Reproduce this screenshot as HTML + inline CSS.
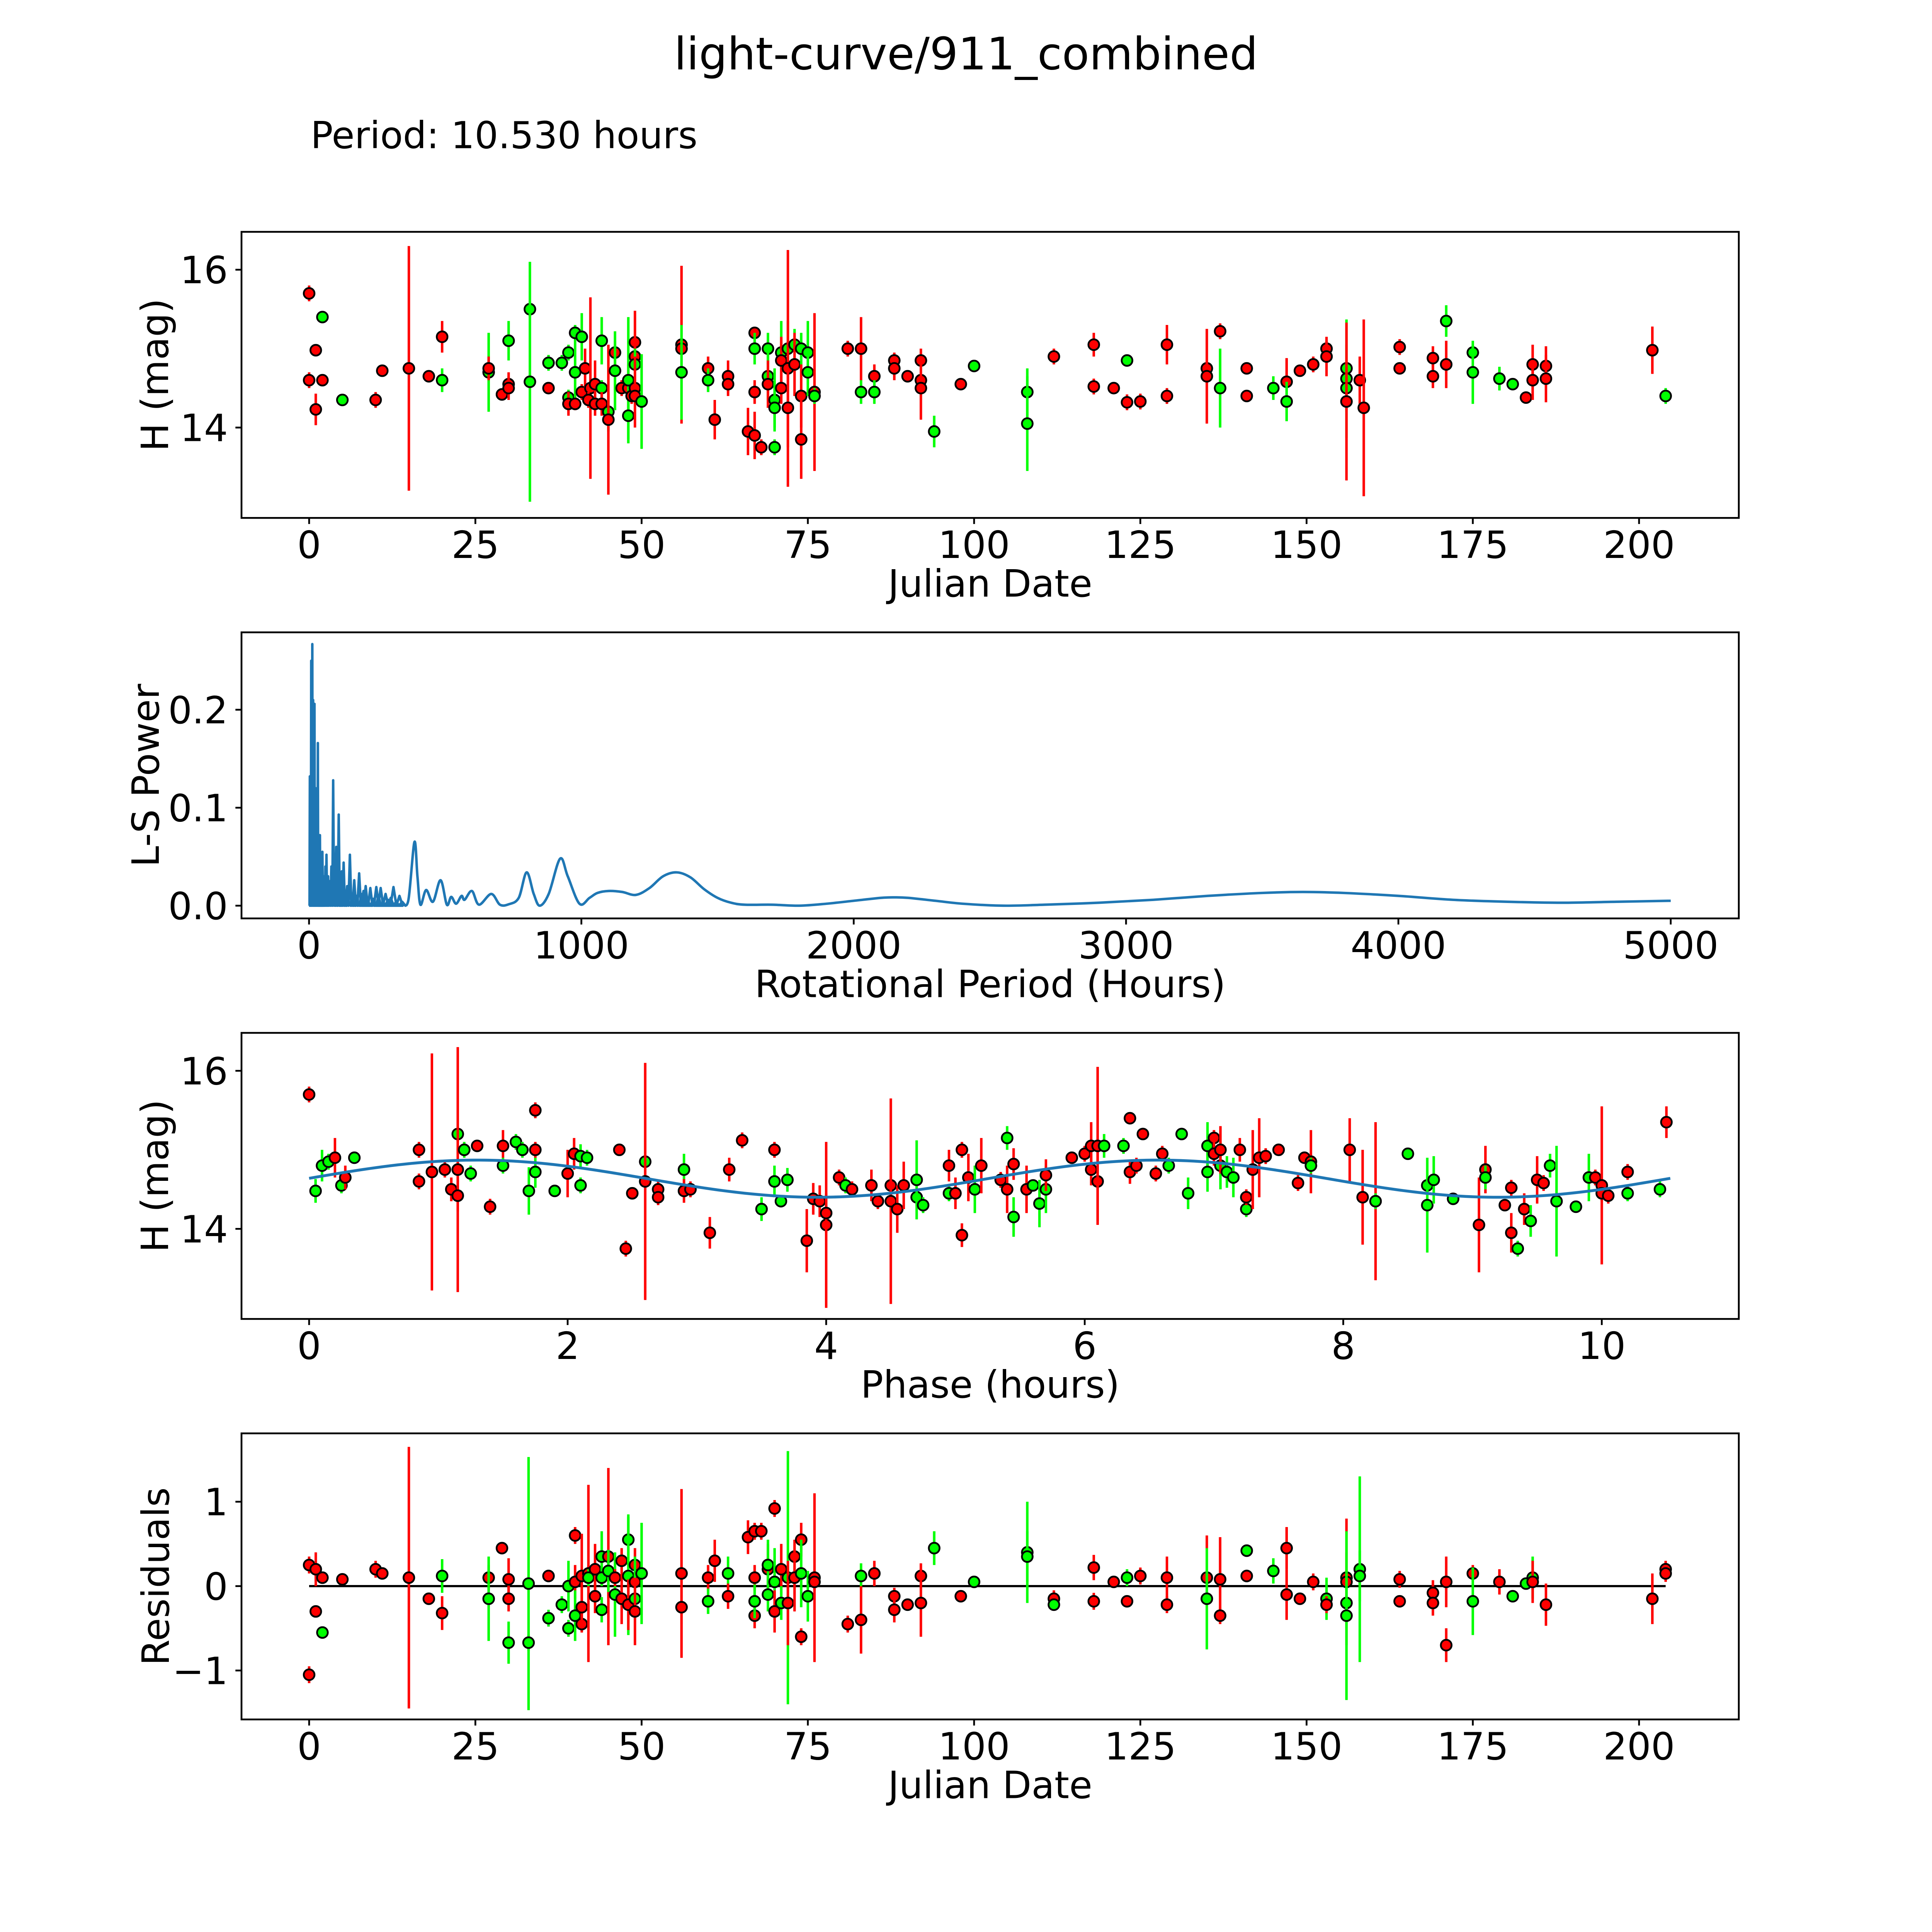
<!DOCTYPE html>
<html><head><meta charset="utf-8">
<meta name="viewport" content="width=5400, initial-scale=1">
<style>
html,body{margin:0;padding:0;background:#fff;overflow:hidden;width:100vw;height:100vh;}
svg{display:block;width:100vw;height:100vh;}
text{font-family:"DejaVu Sans","Liberation Sans",sans-serif;fill:#000;}
</style></head>
<body>
<svg id="fig" viewBox="0 0 5400 5400" preserveAspectRatio="none" xmlns="http://www.w3.org/2000/svg">
<rect x="0" y="0" width="5400" height="5400" fill="#fff"/>
<text x="2700" y="194" font-size="125" text-anchor="middle">light-curve/911_combined</text>
<text x="868" y="414" font-size="104">Period: 10.530 hours</text>
</svg>
<script>
// ---------- Panel 1: light curve (Julian Date, H mag, error, filter) ----------
const lcJd  = [0,0,1,1,2,2,5,10,11,15,18,20,20,27,27,29,30,30,30,33.2,33.2,36,36,38,39,39,39,40,40,40,41,41,41.5,42.3,42,43,43,44,44,44,45,45,46,46,47,48,48,48,48.5,49,49,49,49,49,50,56,56,56,60,60,61,63,63,66,67,67,67,67,68,69,69,69,70,70,70,71,71,71,72,72,72,73,73,74,74,74,75,75,76,76,81,83,83,85,85,88,88,90,92,92,92,94,98,100,108,108,112,118,118,121,123,123,125,129,129,135,135,137,137,141,141,145,147,147,149,151,153,153,156,156,156,156,158,158.6,164,164,169,169,171,171,175,175,179,181,183,184,184,186,186,202,204];
const lcMag = [15.7,14.6,14.98,14.23,15.4,14.6,14.35,14.35,14.72,14.75,14.65,15.15,14.6,14.7,14.75,14.42,15.1,14.55,14.5,15.5,14.58,14.5,14.82,14.82,14.95,14.38,14.3,15.2,14.7,14.3,15.15,14.45,14.75,14.5,14.35,14.55,14.3,15.1,14.5,14.3,14.2,14.1,14.95,14.72,14.5,14.5,14.6,14.15,14.4,15.08,14.9,14.8,14.5,14.4,14.33,15.05,15.0,14.7,14.75,14.6,14.1,14.65,14.55,13.95,15.2,15.0,14.45,13.9,13.75,15.0,14.65,14.55,14.35,14.25,13.75,14.95,14.85,14.5,15.0,14.75,14.25,15.05,14.8,15.0,14.4,13.85,14.95,14.7,14.45,14.4,15.0,15.0,14.45,14.65,14.45,14.85,14.75,14.65,14.85,14.6,14.5,13.95,14.55,14.78,14.45,14.05,14.9,15.05,14.52,14.5,14.85,14.32,14.33,15.05,14.4,14.75,14.65,15.22,14.5,14.75,14.4,14.5,14.58,14.33,14.72,14.8,15.0,14.9,14.75,14.62,14.5,14.33,14.6,14.25,15.02,14.75,14.88,14.65,15.35,14.8,14.95,14.7,14.62,14.55,14.38,14.8,14.6,14.78,14.62,14.98,14.4];
const lcErr = [0.1,0.1,0.05,0.2,0.07,0.05,0.05,0.1,0.05,1.55,0.05,0.2,0.15,0.5,0.15,0.05,0.25,0.15,0.15,0.1,1.52,0.05,0.1,0.1,0.1,0.1,0.15,0.1,0.4,0.08,0.3,0.1,0.25,1.15,0.1,0.3,0.15,0.3,0.1,0.15,0.25,0.95,0.15,0.5,0.1,0.3,0.8,0.3,0.1,0.4,0.5,0.2,0.4,0.4,0.6,1.0,0.2,0.6,0.15,0.15,0.25,0.2,0.15,0.3,0.05,0.2,0.15,0.3,0.1,0.2,0.3,0.3,0.4,0.25,0.1,0.4,0.3,0.2,0.35,1.5,0.5,0.2,0.4,0.2,0.4,0.5,0.4,0.3,1.0,0.1,0.1,0.4,0.15,0.15,0.15,0.1,0.15,0.05,0.15,0.15,0.4,0.2,0.05,0.05,0.3,0.6,0.1,0.15,0.1,0.05,0.05,0.1,0.1,0.25,0.1,0.5,0.6,0.1,0.5,0.05,0.05,0.15,0.3,0.25,0.05,0.1,0.1,0.25,0.3,0.75,0.3,1.0,0.3,1.12,0.1,0.05,0.15,0.15,0.2,0.3,0.1,0.4,0.15,0.05,0.05,0.25,0.25,0.25,0.3,0.3,0.1];
const lcBand = "rrrrgrgrrrrrggrrgrrggrggggrggrgrrrrrrggrgrrgrrggrrrgrrgrrgrgrrrrrgrrrggrggggrrgrrgrgrrggrgrrgrgrrrrrrgrgggrrrrgrrrrrrrgrrgrgrrrrgggrrrrrrrgrggggrrrrrrgr";

// ---------- Panel 2: Lomb-Scargle periodogram ----------
const spikePeriod = [3,5,8,12,15,20,24,28,32.4,36,40,44,49,55,60,64,70,76,82,88.6,95,100,109,115,120,127,134,140,150,158,166,174,184,192,200,208,216,225,235,247,255,263,272,281,290,300,310,320,332,342];
const spikePower  = [0.132,0.115,0.25,0.267,0.21,0.206,0.12,0.09,0.166,0.06,0.072,0.05,0.055,0.03,0.04,0.052,0.03,0.025,0.04,0.128,0.03,0.06,0.093,0.02,0.035,0.044,0.015,0.02,0.052,0.012,0.026,0.01,0.033,0.012,0.015,0.02,0.006,0.018,0.007,0.019,0.01,0.018,0.004,0.012,0.006,0.008,0.019,0.004,0.01,0.004];
const smoothPeriod = [345,365,387,398,409,430,455,483,506,522,540,560,571,598,624,669,701,734,770,799,825,847,880,922,950,993,1030,1059,1100,1150,1200,1250,1300,1350,1400,1450,1500,1550,1600,1700,1800,1900,2000,2100,2150,2200,2300,2400,2550,2700,2900,3100,3300,3500,3650,3800,4000,4200,4400,4600,4800,5000];
const smoothPower  = [0.002,0.006,0.065,0.03,0.001,0.016,0.004,0.026,0.001,0.009,0.002,0.01,0.006,0.015,0.001,0.012,0.001,0.0015,0.008,0.034,0.012,0.0,0.012,0.048,0.03,0.002,0.008,0.013,0.015,0.014,0.011,0.018,0.03,0.034,0.029,0.017,0.008,0.003,0.001,0.001,0.0,0.002,0.005,0.008,0.0085,0.008,0.005,0.002,0.0,0.001,0.003,0.006,0.01,0.013,0.014,0.013,0.01,0.006,0.004,0.003,0.004,0.005];

// ---------- Panel 3: phased light curve ----------
const phHour = [0.0,0.05,0.1,0.15,0.2,0.25,0.28,0.35,0.85,0.85,0.95,1.05,1.1,1.15,1.15,1.15,1.2,1.25,1.3,1.4,1.5,1.5,1.6,1.65,1.7,1.75,1.75,1.75,1.9,2.0,2.05,2.1,2.1,2.15,2.4,2.45,2.5,2.6,2.6,2.7,2.7,2.9,2.9,2.95,3.1,3.25,3.35,3.5,3.6,3.6,3.65,3.7,3.85,3.9,3.95,4.0,4.0,4.1,4.15,4.2,4.35,4.4,4.5,4.5,4.55,4.6,4.7,4.7,4.75,4.95,4.95,5.0,5.05,5.05,5.1,5.15,5.2,5.35,5.4,5.4,5.45,5.45,5.55,5.6,5.65,5.7,5.7,5.9,6.0,6.05,6.05,6.1,6.1,6.15,6.3,6.35,6.35,6.4,6.45,6.55,6.6,6.65,6.75,6.8,6.95,6.95,7.0,7.0,7.05,7.05,7.1,7.15,7.2,7.25,7.25,7.3,7.35,7.4,7.5,7.65,7.7,7.75,7.75,8.05,8.15,8.25,8.25,8.5,8.65,8.65,8.7,8.85,9.05,9.1,9.1,9.25,9.3,9.3,9.35,9.4,9.45,9.5,9.55,9.6,9.65,9.8,9.9,9.95,10.0,10.0,10.05,10.2,10.2,10.45,10.5];
const phMag  = [15.7,14.48,14.8,14.85,14.9,14.55,14.65,14.9,15.0,14.6,14.72,14.75,14.5,15.2,14.75,14.42,15.0,14.7,15.05,14.28,15.05,14.8,15.1,15.0,14.48,15.5,14.72,15.0,14.48,14.7,14.95,14.92,14.55,14.9,15.0,13.75,14.45,14.85,14.6,14.5,14.4,14.75,14.48,14.5,13.95,14.75,15.12,14.25,15.0,14.6,14.35,14.62,13.85,14.38,14.35,14.05,14.2,14.65,14.55,14.5,14.55,14.35,14.55,14.35,14.25,14.55,14.4,14.62,14.3,14.45,14.8,14.45,13.92,15.0,14.65,14.5,14.8,14.62,15.15,14.5,14.82,14.15,14.5,14.55,14.32,14.5,14.68,14.9,14.95,14.75,15.05,14.6,15.05,15.05,15.05,15.4,14.72,14.8,15.2,14.7,14.95,14.8,15.2,14.45,15.05,14.72,15.15,14.95,14.8,15.0,14.72,14.65,15.0,14.25,14.4,14.75,14.9,14.92,15.0,14.58,14.9,14.85,14.8,15.0,14.4,14.35,14.35,14.95,14.55,14.3,14.62,14.38,14.05,14.75,14.65,14.3,14.52,13.95,13.75,14.25,14.1,14.62,14.58,14.8,14.35,14.28,14.65,14.65,14.55,14.45,14.42,14.72,14.45,14.5,15.35];
const phErr  = [0.1,0.15,0.2,0.1,0.25,0.1,0.15,0.05,0.1,0.1,1.5,0.1,0.15,0.1,1.55,0.2,0.1,0.1,0.05,0.1,0.2,0.1,0.1,0.1,0.3,0.1,0.2,0.1,0.05,0.3,0.2,0.15,0.1,0.1,0.05,0.1,0.05,0.3,1.5,0.1,0.1,0.2,0.15,0.1,0.2,0.15,0.1,0.15,0.1,0.2,0.05,0.15,0.4,0.2,0.2,1.05,0.25,0.1,0.1,0.1,0.2,0.1,0.2,1.3,0.3,0.3,0.1,0.5,0.1,0.1,0.2,0.2,0.15,0.1,0.3,0.3,0.35,0.1,0.15,0.3,0.2,0.25,0.3,0.05,0.3,0.3,0.2,0.05,0.1,0.2,0.3,0.5,1.0,0.15,0.1,0.05,0.15,0.1,0.05,0.1,0.1,0.1,0.05,0.2,0.3,0.25,0.1,0.15,0.3,0.3,0.2,0.25,0.15,0.1,0.1,0.5,0.5,0.1,0.05,0.1,0.05,0.4,0.1,0.4,0.6,1.0,0.1,0.05,0.1,0.6,0.3,0.05,0.6,0.3,0.15,0.05,0.1,0.25,0.1,0.2,0.2,0.3,0.1,0.15,0.7,0.05,0.3,0.1,1.0,0.1,0.1,0.1,0.1,0.1,0.2];
const phBand = "rgggrgrgrrrrrgrrggrrrggggrgrgrrgggrrrgrrrgrrrrrgrgggrrrrrrgrrrrrrrggggrrrrrgrrgrrgrgggrrrrrrrggrrrrrrgggggrrgrggrgrrrrrrrrgrrrggggggrrgrrrgrgrrggggrrrrrggrrrr";

// fitted model parameters (phase curve)
const fitMean = 14.635, fitAmp = 0.235, fitPeak = 1.3, fitHalfPeriod = 5.265, foldPeriod = 10.53;

// ---------- Panel 4: residuals ----------
const resJd  = [0,0,1,1,2,2,5,10,11,15,18,20,20,27,27,29,30,30,30,33,33,36,36,38,39,39,40,40,40,41,41,41,42,42,43,43,44,44,44,45,45,46,46,47,47,48,48,48,49,49,49,49,50,56,56,60,60,61,63,63,66,67,67,67,67,68,69,69,69,70,70,70,71,71,72,72,73,73,74,74,74,75,76,76,81,83,83,85,88,88,90,92,92,94,98,100,108,108,112,112,118,118,121,123,123,125,129,129,135,135,137,137,141,141,145,147,147,149,151,153,153,156,156,156,156,158,158,164,164,169,169,171,171,175,175,179,181,183,184,184,186,202,204,204];
const resVal = [0.25,-1.05,0.2,-0.3,0.1,-0.55,0.08,0.2,0.15,0.1,-0.15,0.12,-0.32,0.1,-0.15,0.45,0.08,-0.15,-0.67,0.03,-0.67,0.12,-0.38,-0.22,0.0,-0.5,0.6,0.05,-0.35,0.12,-0.45,-0.25,0.15,0.1,0.2,-0.12,0.35,0.1,-0.28,0.35,0.18,-0.1,0.1,0.3,-0.15,0.55,0.12,-0.22,0.05,0.25,-0.15,-0.3,0.15,0.15,-0.25,0.1,-0.18,0.3,0.15,-0.12,0.58,0.65,0.1,-0.35,-0.18,0.65,0.2,0.25,-0.1,0.92,0.05,-0.3,0.2,-0.2,0.1,-0.2,0.35,0.1,0.55,-0.6,0.15,-0.12,0.1,0.05,-0.45,0.12,-0.4,0.15,-0.12,-0.28,-0.22,0.12,-0.2,0.45,-0.12,0.05,0.4,0.35,-0.15,-0.22,0.22,-0.18,0.05,0.1,-0.18,0.12,0.1,-0.22,0.1,-0.15,0.08,-0.35,0.42,0.12,0.18,0.45,-0.1,-0.15,0.05,-0.15,-0.22,0.1,0.05,-0.2,-0.35,0.2,0.12,0.08,-0.18,-0.08,-0.2,0.05,-0.7,0.15,-0.18,0.05,-0.12,0.03,0.1,0.05,-0.22,-0.15,0.2,0.15];
const resErr = [0.1,0.1,0.2,0.05,0.05,0.07,0.05,0.1,0.05,1.55,0.05,0.2,0.2,0.15,0.5,0.05,0.25,0.15,0.25,1.5,0.1,0.05,0.1,0.1,0.3,0.1,0.1,0.2,0.3,0.5,0.1,0.25,1.05,0.1,0.3,0.2,0.3,0.1,0.15,1.05,0.25,0.5,0.1,0.15,0.3,0.3,0.7,0.3,0.4,0.2,0.5,0.4,0.6,1.0,0.2,0.15,0.15,0.25,0.2,0.15,0.2,0.1,0.15,0.15,0.2,0.1,0.3,0.3,0.2,0.1,0.4,0.25,0.3,0.2,1.5,0.5,0.2,0.4,0.2,0.1,0.4,0.3,1.0,0.1,0.1,0.15,0.4,0.15,0.1,0.15,0.05,0.15,0.4,0.2,0.05,0.05,0.6,0.3,0.1,0.05,0.15,0.1,0.05,0.1,0.05,0.1,0.25,0.1,0.5,0.6,0.5,0.1,0.05,0.05,0.15,0.25,0.3,0.05,0.1,0.25,0.1,0.3,0.75,0.3,1.0,1.1,0.3,0.1,0.05,0.15,0.15,0.3,0.2,0.1,0.4,0.15,0.05,0.05,0.25,0.25,0.25,0.3,0.1,0.1];
const resBand = "rrrrrgrrrrrgrrgrrrgggrggggrrgrrrrgrrgggrggrrrggrrrgrgrrrgrgrrrrrgrrggrgrrggrrrrrggrrrgrrrrrrrgrgggrgrrrgrrrrrgrrgrgrrrrgrrrggggrrrrrrrgrgggrrrrrgrg";

const NS = "http://www.w3.org/2000/svg";
const svg = document.getElementById('fig');
const RED = "#ff0000", GREEN = "#00ff00", BLUE = "#1f77b4";
const L = 675, R = 4860, PW = R - L, PH = 799.6;

function mk(tag, attrs, parent) {
  const e = document.createElementNS(NS, tag);
  for (const k in attrs) e.setAttribute(k, attrs[k]);
  (parent || svg).appendChild(e);
  return e;
}
function makeAxes(name, top, xmin, xmax, ymin, ymax) {
  const g = mk('g', {});
  
  
  return {
    g, top,
    sx: v => L + (v - xmin) / (xmax - xmin) * PW,
    sy: v => top + PH - (v - ymin) / (ymax - ymin) * PH
  };
}
function drawFrame(ax, xTicks, xLabels, yTicks, yLabels, xTitle, yTitle, yTitleX, xname) {
  const clip = mk('clipPath', { id: 'clip-' + xname }, ax.g);
  mk('rect', { x: L, y: ax.top, width: PW, height: PH }, clip);
  const frame = mk('rect', { x: L, y: ax.top, width: PW, height: PH, fill: 'none', stroke: '#000', 'stroke-width': 5 }, ax.g);
  
  
  const bottom = ax.top + PH;
  xTicks.forEach((t, i) => {
    const x = ax.sx(t);
    const tk = mk('line', { x1: x, x2: x, y1: bottom, y2: bottom + 17, stroke: '#000', 'stroke-width': 5 }, ax.g);
    
    
    const lb = mk('text', { x: x, y: bottom + 112, 'font-size': 105, 'text-anchor': 'middle' }, ax.g);
    lb.textContent = xLabels[i];
    
    
  });
  yTicks.forEach((t, i) => {
    const y = ax.sy(t);
    const tk = mk('line', { x1: L - 17, x2: L, y1: y, y2: y, stroke: '#000', 'stroke-width': 5 }, ax.g);
    
    
    const lb = mk('text', { x: L - 38, y: y + 38, 'font-size': 105, 'text-anchor': 'end' }, ax.g);
    lb.textContent = yLabels[i];
    
    
  });
  const xt = mk('text', { x: (L + R) / 2, y: bottom + 220, 'font-size': 105, 'text-anchor': 'middle' }, ax.g);
  xt.textContent = xTitle;
  
  
  const cy = ax.top + PH / 2;
  const yt = mk('text', { x: yTitleX, y: cy, 'font-size': 105, 'text-anchor': 'middle', transform: 'rotate(-90 ' + yTitleX + ' ' + cy + ')' }, ax.g);
  yt.textContent = yTitle;
  
  
}
function drawPoints(ax, xs, ys, es, bands, pname) {
  const layer = mk('g', { 'clip-path': 'url(#clip-' + pname + ')' }, ax.g);
  
  
  for (let i = 0; i < xs.length; i++) {
    const col = bands[i] === 'g' ? GREEN : RED;
    const x = ax.sx(xs[i]);
    const eb = mk('line', { x1: x, x2: x, y1: ax.sy(ys[i] - es[i]), y2: ax.sy(ys[i] + es[i]), stroke: col, 'stroke-width': 7 }, layer);
    
    
    const c = mk('circle', { cx: x, cy: ax.sy(ys[i]), r: 15, fill: col, stroke: '#000', 'stroke-width': 5 }, layer);
    
    
  }
}

// Panel 1
const ax1 = makeAxes('light-curve-panel', 648, -10.17, 215.0, 12.855, 16.48);
drawFrame(ax1, [0,25,50,75,100,125,150,175,200], ['0','25','50','75','100','125','150','175','200'], [14,16], ['14','16'], 'Julian Date', 'H (mag)', 470, 'light-curve');
drawPoints(ax1, lcJd, lcMag, lcErr, lcBand, 'light-curve');

// Panel 2
const ax2 = makeAxes('periodogram-panel', 1767.4, -248, 5250, -0.013, 0.279);
drawFrame(ax2, [0,1000,2000,3000,4000,5000], ['0','1000','2000','3000','4000','5000'], [0,0.1,0.2], ['0.0','0.1','0.2'], 'Rotational Period (Hours)', 'L-S Power', 444, 'periodogram');
(function () {
  let d = 'M' + ax2.sx(0) + ' ' + ax2.sy(0);
  for (let i = 0; i < spikePeriod.length; i++) {
    const p = spikePeriod[i];
    const w = Math.max(1.2, p * 0.035);
    d += ' L' + ax2.sx(p - w) + ' ' + ax2.sy(0) + ' L' + ax2.sx(p) + ' ' + ax2.sy(spikePower[i]) + ' L' + ax2.sx(p + w) + ' ' + ax2.sy(0);
  }
  const pts = smoothPeriod.map((p, i) => [ax2.sx(p), ax2.sy(smoothPower[i])]);
  d += ' L' + pts[0][0] + ' ' + pts[0][1];
  for (let i = 0; i < pts.length - 1; i++) {
    const p0 = pts[Math.max(0, i - 1)], p1 = pts[i], p2 = pts[i + 1], p3 = pts[Math.min(pts.length - 1, i + 2)];
    const c1x = p1[0] + (p2[0] - p0[0]) / 6, c1y = p1[1] + (p2[1] - p0[1]) / 6;
    const c2x = p2[0] - (p3[0] - p1[0]) / 6, c2y = p2[1] - (p3[1] - p1[1]) / 6;
    d += ' C' + c1x + ' ' + c1y + ' ' + c2x + ' ' + c2y + ' ' + p2[0] + ' ' + p2[1];
  }
  const path = mk('path', { d: d, fill: 'none', stroke: BLUE, 'stroke-width': 7, 'stroke-linejoin': 'round' }, ax2.g);
  
  
})();

// Panel 3
const ax3 = makeAxes('phase-panel', 2886.9, -0.523, 11.06, 12.86, 16.48);
drawFrame(ax3, [0,2,4,6,8,10], ['0','2','4','6','8','10'], [14,16], ['14','16'], 'Phase (hours)', 'H (mag)', 470, 'phase');
drawPoints(ax3, phHour, phMag, phErr, phBand, 'phase');
(function () {
  let d = '';
  const n = 200;
  for (let i = 0; i <= n; i++) {
    const ph = foldPeriod * i / n;
    const m = fitMean + fitAmp * Math.cos(2 * Math.PI * (ph - fitPeak) / fitHalfPeriod);
    d += (i ? ' L' : 'M') + ax3.sx(ph) + ' ' + ax3.sy(m);
  }
  const path = mk('path', { d: d, fill: 'none', stroke: BLUE, 'stroke-width': 8 }, ax3.g);
  
  
})();

// Panel 4
const ax4 = makeAxes('residuals-panel', 4006.3, -10.17, 215.0, -1.58, 1.81);
drawFrame(ax4, [0,25,50,75,100,125,150,175,200], ['0','25','50','75','100','125','150','175','200'], [-1,0,1], ['\u22121','0','1'], 'Julian Date', 'Residuals', 472, 'residuals');
(function () {
  const zl = mk('line', { x1: ax4.sx(0), x2: ax4.sx(204), y1: ax4.sy(0), y2: ax4.sy(0), stroke: '#000', 'stroke-width': 6 }, ax4.g);
  
  
})();
drawPoints(ax4, resJd, resVal, resErr, resBand, 'residuals');
</script>
</body></html>
